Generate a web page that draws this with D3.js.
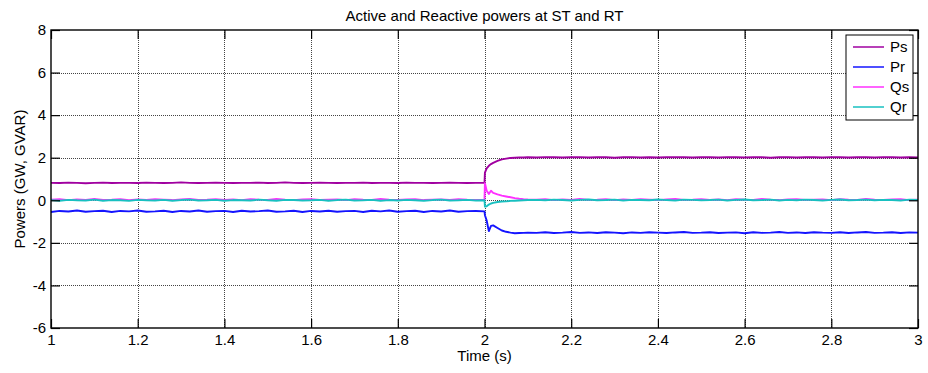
<!DOCTYPE html>
<html>
<head>
<meta charset="utf-8">
<script src="https://cdn.jsdelivr.net/npm/d3@7"></script>
<style>
  body { margin: 0; background: #fff; }
  svg { display: block; font-family: "Liberation Sans", Arial, sans-serif; }
</style>
</head>
<body>
<svg id="chart" width="928" height="373"></svg>
<script>
const title = "Active and Reactive powers at ST and RT";
const xLabel = "Time (s)";
const yLabel = "Powers (GW, GVAR)";
const seriesNames = ["Ps", "Pr", "Qs", "Qr"];
const seriesColors = ["#a000a0", "#1414ff", "#ff30ff", "#18c0c0"];
const xTicks = [1, 1.2, 1.4, 1.6, 1.8, 2, 2.2, 2.4, 2.6, 2.8, 3];
const yTicks = [-6, -4, -2, 0, 2, 4, 6, 8];

const time = [
  1.00,1.02,1.04,1.06,1.08,1.10,1.12,1.14,1.16,1.18,
  1.20,1.22,1.24,1.26,1.28,1.30,1.32,1.34,1.36,1.38,
  1.40,1.42,1.44,1.46,1.48,1.50,1.52,1.54,1.56,1.58,
  1.60,1.62,1.64,1.66,1.68,1.70,1.72,1.74,1.76,1.78,
  1.80,1.82,1.84,1.86,1.88,1.90,1.92,1.94,1.96,1.98,
  2.00,
  2.001,2.005,2.01,2.015,2.02,2.03,2.04,2.05,2.06,2.07,2.08,2.09,2.10,
  2.12,2.14,2.16,2.18,2.20,2.22,2.24,2.26,2.28,2.30,
  2.32,2.34,2.36,2.38,2.40,2.42,2.44,2.46,2.48,2.50,
  2.52,2.54,2.56,2.58,2.60,2.62,2.64,2.66,2.68,2.70,
  2.72,2.74,2.76,2.78,2.80,2.82,2.84,2.86,2.88,2.90,
  2.92,2.94,2.96,2.98,3.00
];

const Ps = [
  0.82,0.81,0.83,0.82,0.80,0.82,0.83,0.81,0.82,0.82,
  0.81,0.83,0.82,0.81,0.82,0.84,0.82,0.81,0.82,0.83,
  0.82,0.81,0.82,0.82,0.83,0.81,0.82,0.84,0.82,0.81,
  0.82,0.83,0.82,0.81,0.82,0.82,0.83,0.81,0.82,0.82,
  0.81,0.83,0.82,0.82,0.81,0.82,0.83,0.82,0.81,0.82,
  0.82,
  1.30,1.50,1.62,1.70,1.76,1.85,1.92,1.96,1.99,2.00,2.01,2.01,2.02,
  2.01,2.03,2.02,2.01,2.02,2.03,2.01,2.02,2.02,2.00,
  2.02,2.03,2.01,2.02,2.01,2.02,2.03,2.02,2.01,2.02,
  2.02,2.01,2.03,2.02,2.01,2.02,2.02,2.00,2.02,2.03,
  2.01,2.02,2.02,2.01,2.03,2.02,2.01,2.02,2.02,2.01,
  2.03,2.02,2.01,2.02,2.01
];

const Pr = [
  -0.55,-0.50,-0.53,-0.48,-0.54,-0.51,-0.49,-0.55,-0.50,-0.52,
  -0.48,-0.54,-0.52,-0.49,-0.55,-0.50,-0.53,-0.48,-0.54,-0.51,
  -0.50,-0.55,-0.49,-0.53,-0.51,-0.48,-0.54,-0.52,-0.49,-0.55,
  -0.50,-0.53,-0.49,-0.54,-0.51,-0.50,-0.55,-0.49,-0.52,-0.48,
  -0.54,-0.51,-0.49,-0.55,-0.50,-0.53,-0.48,-0.54,-0.51,-0.50,
  -0.52,
  -0.70,-0.95,-1.45,-1.20,-1.18,-1.30,-1.42,-1.48,-1.52,-1.55,-1.54,-1.53,-1.52,
  -1.53,-1.50,-1.54,-1.52,-1.49,-1.53,-1.51,-1.54,-1.50,-1.52,
  -1.55,-1.51,-1.53,-1.50,-1.52,-1.54,-1.51,-1.49,-1.53,-1.52,
  -1.50,-1.54,-1.52,-1.51,-1.55,-1.50,-1.53,-1.52,-1.49,-1.53,
  -1.51,-1.54,-1.50,-1.52,-1.53,-1.50,-1.54,-1.51,-1.49,-1.53,
  -1.52,-1.50,-1.54,-1.51,-1.52
];

const Qs = [
  0.03,0.05,0.01,0.04,0.02,0.06,0.02,0.03,0.05,0.01,
  0.04,0.02,0.05,0.03,0.01,0.04,0.06,0.02,0.03,0.05,
  0.02,0.04,0.01,0.05,0.03,0.02,0.06,0.03,0.01,0.04,
  0.05,0.02,0.03,0.04,0.01,0.05,0.03,0.02,0.06,0.03,
  0.02,0.04,0.05,0.01,0.03,0.04,0.02,0.05,0.03,0.02,
  0.03,
  0.80,0.45,0.30,0.45,0.35,0.28,0.22,0.18,0.14,0.10,0.07,0.05,0.04,
  0.03,0.05,0.01,0.04,0.02,0.06,0.02,0.03,0.05,0.01,
  0.04,0.02,0.05,0.03,0.01,0.04,0.06,0.02,0.03,0.05,
  0.02,0.04,0.01,0.05,0.03,0.02,0.06,0.03,0.01,0.04,
  0.05,0.02,0.03,0.04,0.01,0.05,0.03,0.02,0.06,0.03,
  0.02,0.04,0.05,0.01,0.03
];

const Qr = [
  0.01,-0.02,0.02,0.00,-0.01,0.03,-0.02,0.01,0.00,-0.03,
  0.02,0.00,-0.01,0.02,-0.02,0.01,0.03,-0.01,0.00,0.02,
  -0.02,0.01,0.00,-0.01,0.03,0.00,-0.02,0.02,0.01,-0.01,
  0.00,0.02,-0.02,0.01,0.03,-0.01,0.00,0.02,-0.02,0.01,
  -0.01,0.02,0.00,-0.02,0.01,0.03,-0.01,0.00,0.02,-0.01,
  0.00,
  -0.30,-0.28,-0.20,-0.15,-0.12,-0.08,-0.06,-0.05,-0.03,-0.02,-0.01,0.00,0.01,
  0.02,0.00,0.03,0.01,-0.01,0.02,0.04,0.00,0.01,0.03,
  -0.01,0.02,0.01,0.00,0.04,0.01,-0.01,0.03,0.02,0.00,
  0.01,0.03,-0.01,0.02,0.04,0.00,0.01,0.03,-0.01,0.02,
  0.00,0.03,0.01,-0.01,0.02,0.04,0.00,0.01,0.03,0.00,
  0.02,0.01,-0.01,0.03,0.01
];

const seriesValues = [Ps, Pr, Qs, Qr];

const W = 928, H = 373;
const margin = { left: 51, right: 10, top: 30, bottom: 45 };
const iw = W - margin.left - margin.right;
const ih = H - margin.top - margin.bottom;
const FS = "15px";

const svg = d3.select("#chart");
const g = svg.append("g").attr("transform", `translate(${margin.left},${margin.top})`);

const x = d3.scaleLinear().domain([1, 3]).range([0, iw]);
const y = d3.scaleLinear().domain([-6, 8]).range([ih, 0]);

// grid
const grid = g.append("g").attr("class", "grid");
grid.selectAll("line.vx").data(xTicks.slice(1, -1)).join("line")
  .attr("x1", d => Math.round(x(d)) + 0.5).attr("x2", d => Math.round(x(d)) + 0.5)
  .attr("y1", 0).attr("y2", ih)
  .attr("stroke", "#444").attr("stroke-width", 1).attr("stroke-dasharray", "1,1");
grid.selectAll("line.hy").data(yTicks.slice(1, -1)).join("line")
  .attr("y1", d => Math.round(y(d)) + 0.5).attr("y2", d => Math.round(y(d)) + 0.5)
  .attr("x1", 0).attr("x2", iw)
  .attr("stroke", "#444").attr("stroke-width", 1).attr("stroke-dasharray", "1,1");

// lines
const line = d3.line().x((d, i) => x(time[i])).y(d => y(d));
seriesValues.forEach((vals, k) => {
  g.append("path").datum(vals)
    .attr("fill", "none")
    .attr("stroke", seriesColors[k])
    .attr("stroke-width", 1.9)
    .attr("stroke-linejoin", "round")
    .attr("d", line);
});

// axes with inward ticks
const tickLen = 9;
function styleAxis(sel, showLabels) {
  sel.select(".domain").remove();
  sel.selectAll(".tick line").attr("stroke", "#000").attr("stroke-width", 1.2);
  if (!showLabels) sel.selectAll(".tick text").remove();
  else sel.selectAll(".tick text").attr("fill", "#000").style("font-size", FS)
    .style("font-family", '"Liberation Sans", Arial, sans-serif');
}
const fmt = d => String(d);
g.append("g").attr("transform", `translate(0,${ih})`)
  .call(d3.axisBottom(x).tickValues(xTicks).tickFormat(fmt).tickSizeInner(-tickLen).tickSizeOuter(0).tickPadding(6))
  .call(s => styleAxis(s, true));
g.append("g")
  .call(d3.axisTop(x).tickValues(xTicks).tickSizeInner(-tickLen).tickSizeOuter(0))
  .call(s => styleAxis(s, false));
g.append("g")
  .call(d3.axisLeft(y).tickValues(yTicks).tickFormat(fmt).tickSizeInner(-tickLen).tickSizeOuter(0).tickPadding(5))
  .call(s => styleAxis(s, true));
g.append("g").attr("transform", `translate(${iw},0)`)
  .call(d3.axisRight(y).tickValues(yTicks).tickSizeInner(-tickLen).tickSizeOuter(0))
  .call(s => styleAxis(s, false));

// frame
g.append("rect").attr("x", 0).attr("y", 0).attr("width", iw).attr("height", ih)
  .attr("fill", "none").attr("stroke", "#000").attr("stroke-width", 1.4);

// title & labels
svg.append("text").attr("x", margin.left + iw / 2).attr("y", 21)
  .attr("text-anchor", "middle").style("font-size", FS).attr("fill", "#000").text(title);
svg.append("text").attr("x", margin.left + iw / 2).attr("y", 361)
  .attr("text-anchor", "middle").style("font-size", FS).attr("fill", "#000").text(xLabel);
svg.append("text")
  .attr("transform", `translate(25,${margin.top + ih / 2}) rotate(-90)`)
  .attr("text-anchor", "middle").style("font-size", FS).attr("fill", "#000").text(yLabel);

// legend
const lg = svg.append("g").attr("transform", "translate(846,35)");
lg.append("rect").attr("x", 0).attr("y", 0).attr("width", 67).attr("height", 85)
  .attr("fill", "#fff").attr("stroke", "#000").attr("stroke-width", 1);
seriesNames.forEach((name, k) => {
  const yy = 12 + k * 20;
  lg.append("line").attr("x1", 7).attr("x2", 38).attr("y1", yy).attr("y2", yy)
    .attr("stroke", seriesColors[k]).attr("stroke-width", 1.5);
  lg.append("text").attr("x", 44).attr("y", yy + 5).style("font-size", FS)
    .attr("fill", "#000").text(name);
});
</script>
</body>
</html>
